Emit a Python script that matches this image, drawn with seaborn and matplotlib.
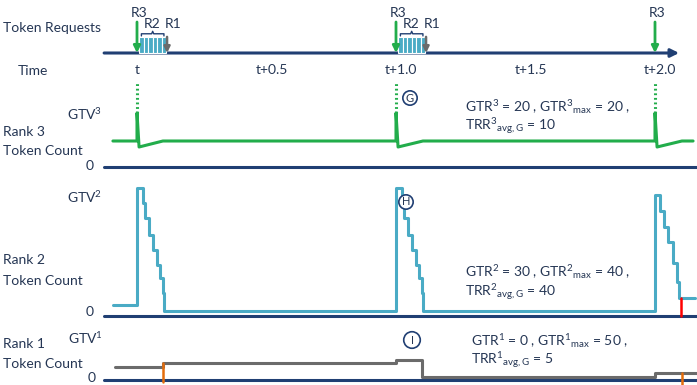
import numpy as np
import pandas as pd
import seaborn as sns
import matplotlib.pyplot as plt

sns.set_theme(style='white')
plt.rcParams['font.family'] = ['Lato', 'DejaVu Sans']
plt.rcParams['mathtext.fontset'] = 'custom'
plt.rcParams['mathtext.rm'] = 'Lato'
plt.rcParams['mathtext.it'] = 'Lato:italic'
plt.rcParams['mathtext.bf'] = 'Lato:bold'

W, H = 697, 385

########## DATA (time in units after t) ##########
tick_pos = [0.0, 0.5, 1.0, 1.5, 2.0]
tick_labels = ['t', 't+0.5', 't+1.0', 't+1.5', 't+2.0']

r3_req = [0.0, 1.0, 2.0]
r2_req = [0.009, 0.026, 0.043, 0.061, 0.078, 0.095,
          1.009, 1.026, 1.043, 1.061, 1.078, 1.095]
r1_req = [0.116, 1.116]

# rank 3 token count (GTV3 spike, dip, refill)
rank3_t = [-0.093, 0.0, 0.0, 0.008, 0.100, 1.0, 1.0, 1.008, 1.104,
           2.0, 2.0, 2.008, 2.104, 2.147]
rank3_n = [10.4, 10.4, 21.6, 8.0, 10.4, 10.4, 21.6, 8.0, 10.4,
           10.4, 21.6, 8.0, 10.4, 10.4]
rank3_dot = [21.6, 33.6]

# rank 2 token count, step values
rank2_t = [-0.093, 0.0, 0.023, 0.031, 0.046, 0.062, 0.077, 0.089, 0.100, 0.104,
           1.0, 1.023, 1.031, 1.046, 1.062, 1.077, 1.089, 1.100, 1.104,
           2.0, 2.019, 2.035, 2.050, 2.069, 2.085, 2.093, 2.154]
rank2_n = [4.2, 51, 45, 39, 32.2, 26.2, 20.2, 15, 9, 1.8,
           51, 45, 39, 32.2, 26.2, 20.2, 15, 9, 1.8,
           48.2, 41.8, 35.4, 29.4, 21, 13.4, 7, 7]
rank2_red_t = [2.1, 2.1]
rank2_red_n = [7, -0.2]

# rank 1 token count, step values
rank1_t = [-0.085, 0.100, 1.0, 1.100, 2.0, 2.162]
rank1_n = [5.2, 6.8, 8.0, 1.2, 2.8, 2.8]
rank1_or_t = [0.100, 0.100, 2.104, 2.104]
rank1_or_n = [6.8, -0.8, 2.8, -2.0]
rank1_or_u = [0, 0, 1, 1]

navy = '#203f73'
green = '#22ad4b'
cyan = '#4aabc5'
grey = '#6b6b6b'
txt = '#253654'

XL = (-137 / 259, 560 / 259)

fig = plt.figure(figsize=(W / 100, H / 100), dpi=100)


def panel(top, bottom, zero, ppu):
    ax = fig.add_axes([0, 1 - bottom / H, 1, (bottom - top) / H])
    ax.set_xlim(XL)
    ax.set_ylim((zero - bottom) / ppu, (zero - top) / ppu)
    ax.axis('off')
    return ax


def ftxt(x, y, s, **kw):
    kw.setdefault('va', 'center')
    kw.setdefault('color', txt)
    kw.setdefault('fontsize', 10)
    fig.text(x / W, 1 - y / H, s, **kw)


############ TOKEN REQUESTS ###########
ax0 = panel(0, 62, 53, 31)
ax0.annotate('', xy=(2.093, 0), xytext=(-0.127, 0),
             arrowprops=dict(arrowstyle='-|>', color=navy, lw=2.2,
                             mutation_scale=12, shrinkA=0, shrinkB=0))
ax0.bar(r2_req, 0.52, width=0.0172, align='edge', color=cyan,
        edgecolor='white', linewidth=0.8, zorder=3)
for t in r1_req:
    ax0.annotate('', xy=(t, 0), xytext=(t, 0.52),
                 arrowprops=dict(arrowstyle='-|>', color=grey, lw=1.8,
                                 mutation_scale=9, shrinkA=0, shrinkB=0), zorder=4)
for t in r3_req:
    ax0.annotate('', xy=(t, 0), xytext=(t, 1.0),
                 arrowprops=dict(arrowstyle='-|>', color=green, lw=2,
                                 mutation_scale=10, shrinkA=0, shrinkB=0), zorder=5)
# brace above R2 bursts
for t0 in [0.0, 1.0]:
    x0, x1 = t0 + 0.017, t0 + 0.104
    xc = (x0 + x1) / 2
    ax0.plot([x0, x0, xc - 0.004, xc, xc + 0.004, x1, x1],
             [0.55, 0.62, 0.62, 0.70, 0.62, 0.62, 0.55], color=navy, lw=1)

ftxt(3, 28, 'Token Requests')
ftxt(18, 71, 'Time')
for p, lab in zip(tick_pos, tick_labels):
    off = 0 if lab == 't' else 5
    ftxt(137 + 259 * p + off, 70, lab, ha='center')
for t in r3_req:
    ftxt(137 + 259 * t + 2, 13, 'R3', ha='center')
for t in [0.0, 1.0]:
    ftxt(137 + 259 * t + 15, 24, 'R2', ha='center')
    ftxt(137 + 259 * t + 36, 24, 'R1', ha='center')

############ RANK 3 ###########
ax3 = panel(78, 172, 167, 2.5)
ax3.axhline(0, xmin=104 / W, xmax=1, color=navy, lw=2.2)
sns.lineplot(x=rank3_t, y=rank3_n, ax=ax3, sort=False, estimator=None,
             color=green, lw=2.2, legend=False)
dot = pd.DataFrame({'t': np.repeat(r3_req, 2), 'n': rank3_dot * 3,
                    'u': np.repeat([0, 1, 2], 2)})
sns.lineplot(data=dot, x='t', y='n', units='u', estimator=None, ax=ax3,
             color=green, lw=2.2, linestyle=(0, (0.6, 0.9)), legend=False)

ftxt(67, 114, r'GTV$^{3}$')
ftxt(3, 132, 'Rank 3')
ftxt(3, 151, 'Token Count')
ftxt(86, 166, '0')
ftxt(465, 112, r'GTR$^{3}$ = 20 , GTR$^{3}{}_{\mathrm{max}}$ = 20 ,', va='baseline')
ftxt(465, 131, r'TRR$^{3}{}_{\mathrm{avg,G}}$ = 10', va='baseline')
ftxt(410, 98, 'G', ha='center', fontsize=8,
     bbox=dict(boxstyle='circle,pad=0.15', fc='white', ec=navy, lw=1.2))

############ RANK 2 ###########
ax2 = panel(180, 320, 315.5, 2.5)
ax2.axhline(0, xmin=104 / W, xmax=1, color=navy, lw=2.2)
sns.lineplot(x=rank2_t, y=rank2_n, ax=ax2, sort=False, estimator=None,
             color=cyan, lw=2.2, drawstyle='steps-post', legend=False)
sns.lineplot(x=rank2_red_t, y=rank2_red_n, ax=ax2, sort=False, estimator=None,
             color='red', lw=1.8, legend=False)

ftxt(67, 197, r'GTV$^{2}$')
ftxt(3, 260, 'Rank 2')
ftxt(3, 281, 'Token Count')
ftxt(86, 312, '0')
ftxt(465, 277, r'GTR$^{2}$ = 30 , GTR$^{2}{}_{\mathrm{max}}$ = 40 ,', va='baseline')
ftxt(465, 297, r'TRR$^{2}{}_{\mathrm{avg,G}}$ = 40', va='baseline')
ftxt(406, 202, 'H', ha='center', fontsize=8,
     bbox=dict(boxstyle='circle,pad=0.15', fc='white', ec=navy, lw=1.2))

############ RANK 1 ###########
ax1 = panel(325, 385, 380, 2.5)
ax1.axhline(0, xmin=104 / W, xmax=1, color=navy, lw=2.2)
sns.lineplot(x=rank1_t, y=rank1_n, ax=ax1, sort=False, estimator=None,
             color=grey, lw=2.2, drawstyle='steps-post', legend=False)
sns.lineplot(x=rank1_or_t, y=rank1_or_n, units=rank1_or_u, ax=ax1,
             estimator=None, sort=False, color='#e46c0a', lw=1.8, legend=False)

ftxt(68, 338, r'GTV$^{1}$')
ftxt(3, 344, 'Rank 1')
ftxt(3, 364, 'Token Count')
ftxt(88, 378, '0')
ftxt(471, 346, r'GTR$^{1}$ = 0 , GTR$^{1}{}_{\mathrm{max}}$ = 50 ,', va='baseline')
ftxt(471, 365, r'TRR$^{1}{}_{\mathrm{avg,G}}$ = 5', va='baseline')
ftxt(412, 340, 'I', ha='center', fontsize=8,
     bbox=dict(boxstyle='circle,pad=0.25', fc='white', ec=navy, lw=1.2))

plt.savefig('out.png', dpi=100)
